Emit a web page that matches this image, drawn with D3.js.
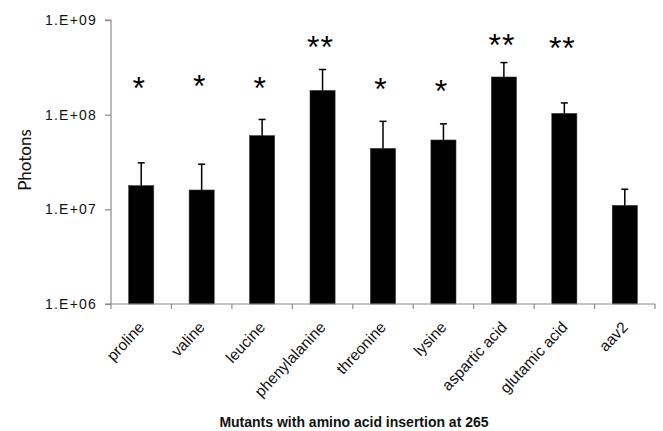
<!DOCTYPE html>
<html>
<head>
<meta charset="utf-8">
<script src="https://cdn.jsdelivr.net/npm/d3@7"></script>
<style>
  html, body { margin: 0; padding: 0; background: #fff; }
  svg { display: block; }
</style>
</head>
<body>
<svg id="chart" width="663" height="431"></svg>
<script>
// ---- data ----
const categories = ["proline", "valine", "leucine", "phenylalanine", "threonine", "lysine", "aspartic acid", "glutamic acid", "aav2"];
const photons    = [1.78e7, 1.6e7, 6.0e7, 1.8e8, 4.4e7, 5.4e7, 2.5e8, 1.03e8, 1.1e7];
const errorTop   = [3.1e7, 3.0e7, 8.9e7, 3.0e8, 8.5e7, 8.0e7, 3.55e8, 1.33e8, 1.63e7];
const sigMarks   = ["*", "*", "*", "**", "*", "*", "**", "**", ""];
const sigLevel   = [2.26e8, 2.37e8, 2.26e8, 6.1e8, 2.23e8, 2.1e8, 6.4e8, 6.0e8, 0];
const yTicks     = [1e6, 1e7, 1e8, 1e9];
const yTickLabels = ["1.E+06", "1.E+07", "1.E+08", "1.E+09"];
const yTitle = "Photons";
const xTitle = "Mutants with amino acid insertion at 265";

// ---- layout ----
const svg = d3.select("#chart");
const plot = { left: 111, right: 655, top: 20, bottom: 304 };
const axisColor = "#8a8a8a";

const x = d3.scaleBand().domain(categories).range([plot.left, plot.right]).padding(0);
const y = d3.scaleLog().domain([1e6, 1e9]).range([plot.bottom, plot.top]);
const barW = x.bandwidth() * 0.415;

// bars
svg.append("g").selectAll("rect").data(categories).join("rect")
  .attr("x", c => x(c) + (x.bandwidth() - barW) / 2)
  .attr("y", (c, i) => y(photons[i]))
  .attr("width", barW)
  .attr("height", (c, i) => y(1e6) - y(photons[i]))
  .attr("fill", "#000")
  .attr("stroke", "#333")
  .attr("stroke-width", 0.6);

// error bars
const eg = svg.append("g").attr("stroke", "#000").attr("stroke-width", 1.5);
categories.forEach((c, i) => {
  const cx = x(c) + x.bandwidth() / 2;
  eg.append("line").attr("x1", cx).attr("x2", cx).attr("y1", y(photons[i])).attr("y2", y(errorTop[i]));
  eg.append("line").attr("x1", cx - 3.5).attr("x2", cx + 3.5).attr("y1", y(errorTop[i])).attr("y2", y(errorTop[i]));
});

// significance stars
const starFs = 32;
svg.append("g").selectAll("text").data(categories).join("text")
  .attr("x", c => x(c) + x.bandwidth() / 2 - 2)
  .attr("y", (c, i) => sigLevel[i] > 0 ? y(sigLevel[i]) + starFs * 0.56 : 0)
  .attr("text-anchor", "middle")
  .attr("font-family", "'Liberation Sans', Arial, sans-serif")
  .attr("font-size", starFs)
  .attr("letter-spacing", 1)
  .attr("fill", "#000")
  .text((c, i) => sigMarks[i]);

// y axis
const yAxis = d3.axisLeft(y)
  .tickValues(yTicks)
  .tickFormat((d, i) => yTickLabels[i])
  .tickSize(6)
  .tickPadding(8);
const gy = svg.append("g").attr("transform", `translate(${plot.left},0)`).call(yAxis);
gy.select(".domain").attr("stroke", axisColor).attr("stroke-width", 1.2).attr("d", `M-6,${plot.top}H0V${plot.bottom}`);
gy.selectAll(".tick line").attr("stroke", axisColor).attr("stroke-width", 1.2);
gy.selectAll(".tick text")
  .attr("font-family", "'Liberation Sans', Arial, sans-serif")
  .attr("font-size", 14)
  .attr("letter-spacing", 1.2)
  .attr("fill", "#111");

// x axis
const gx = svg.append("g");
gx.append("line")
  .attr("x1", plot.left - 6).attr("x2", plot.right)
  .attr("y1", plot.bottom).attr("y2", plot.bottom)
  .attr("stroke", axisColor).attr("stroke-width", 1.2);
const boundaries = categories.map(c => x(c)).concat([x.range()[1]]);
gx.selectAll("line.tk").data(boundaries).join("line")
  .attr("class", "tk")
  .attr("x1", d => d).attr("x2", d => d)
  .attr("y1", plot.bottom).attr("y2", plot.bottom + 5)
  .attr("stroke", axisColor).attr("stroke-width", 1.2);

gx.selectAll("text.lbl").data(categories).join("text")
  .attr("class", "lbl")
  .attr("transform", c => `translate(${x(c) + x.bandwidth() / 2 + 4},${plot.bottom + 24}) rotate(-47)`)
  .attr("text-anchor", "end")
  .attr("font-family", "'Liberation Sans', Arial, sans-serif")
  .attr("font-size", 15.5)
  .attr("fill", "#111")
  .text(c => c);

// titles
svg.append("text")
  .attr("transform", `translate(31,160) rotate(-90)`)
  .attr("text-anchor", "middle")
  .attr("font-family", "Lato, 'Open Sans', sans-serif")
  .attr("font-size", 17)
  .attr("fill", "#111")
  .text(yTitle);

svg.append("text")
  .attr("x", 354).attr("y", 427)
  .attr("text-anchor", "middle")
  .attr("font-family", "'Liberation Sans', Arial, sans-serif")
  .attr("font-weight", "bold")
  .attr("font-size", 14)
  .attr("fill", "#111")
  .text(xTitle);
</script>
</body>
</html>
